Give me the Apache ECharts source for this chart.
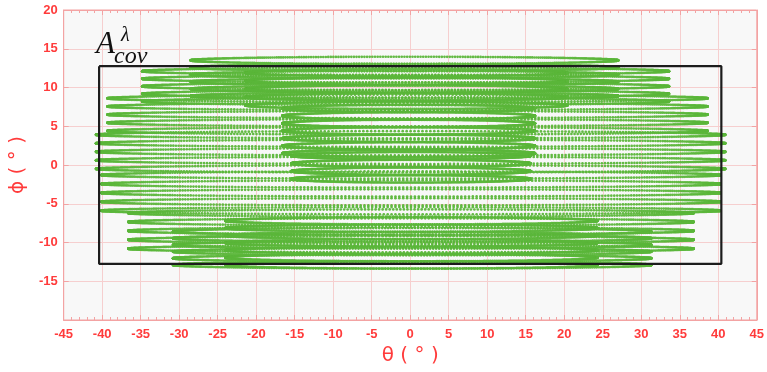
<!DOCTYPE html>
<html>
<head>
<meta charset="utf-8">
<script src="https://cdn.jsdelivr.net/npm/echarts@6/dist/echarts.min.js"></script>
<style>
html,body{margin:0;padding:0;background:#fff;}
#chart{width:767px;height:372px;}
</style>
</head>
<body>
<div id="chart"></div>
<script>
// Loop groups of the coverage scan (degrees)
const groupXLeft   = [-28.5, -34.8, -39.3, -40.8, -40.1, -36.6, -30.8, -24.0, -21.4, -16.6, -15.4, -17.9];
const groupXRight  = [ 27.0,  33.6,  38.6,  40.9,  40.3,  36.8,  31.3,  24.3,  20.4,  16.2,  15.6,  18.4];
const groupYTop    = [ 13.5,  12.1,   8.6,   3.9,  -1.3,  -6.2,  -8.6,  -7.2,  11.9,   7.3,   1.2,  -4.2];
const groupYBottom = [  8.9,   8.2,   4.4,  -0.5,  -5.9, -10.8, -12.9, -12.9,   7.7,   1.5,  -3.8,  -9.8];
const groupLoops   = [  6,     5,     5,     5,     5,     5,     6,     7,     5,     7,     6,     6  ];
const loopHalfHeight = 0.47;
const samplesPerLoop = 500;

// Coverage rectangle
const rectX = [-40.4, 40.4];
const rectY = [-12.75, 12.75];

const xMin = -45, xMax = 45, xStep = 5;
const yMin = -20, yMax = 20, yStep = 5;

const red = '#ff3b3b';
const pinkLine = '#f6cfcf';
const axisPink = '#f3a3a3';

// build scan points from the loop groups (equal time sampling per loop)
const scanPoints = [];
for (let g = 0; g < groupXLeft.length; g++) {
  const xl = groupXLeft[g], xr = groupXRight[g];
  const cx = (xl + xr) / 2, rx = (xr - xl) / 2;
  const n = groupLoops[g];
  for (let k = 0; k < n; k++) {
    const cy = n === 1 ? groupYTop[g] : groupYTop[g] + (groupYBottom[g] - groupYTop[g]) * k / (n - 1);
    for (let i = 0; i < samplesPerLoop; i++) {
      const t = 2 * Math.PI * i / samplesPerLoop;
      scanPoints.push([cx + rx * Math.cos(t), cy + loopHalfHeight * Math.sin(t)]);
    }
  }
}
const rectPoints = [
  [rectX[0], rectY[1]], [rectX[1], rectY[1]], [rectX[1], rectY[0]],
  [rectX[0], rectY[0]], [rectX[0], rectY[1]]
];

const chart = echarts.init(document.getElementById('chart'), null, {renderer: 'canvas'});
const labelStyle = {color: red, fontWeight: 'bold', fontSize: 13, fontFamily: 'Liberation Sans, Arial, sans-serif'};
const axLine = {show: true, onZero: false, lineStyle: {color: axisPink}};
chart.setOption({
  animation: false,
  backgroundColor: '#ffffff',
  grid: {left: 60, right: 9, top: 10, bottom: 52, show: true, backgroundColor: '#f8f8f8', borderColor: axisPink, borderWidth: 1},
  xAxis: [{
    type: 'value', min: xMin, max: xMax, interval: xStep, position: 'bottom',
    name: 'θ ( ° )', nameLocation: 'middle', nameGap: 23,
    nameTextStyle: {color: red, fontSize: 20, fontFamily: 'DejaVu Sans, sans-serif'},
    axisLine: axLine,
    axisTick: {show: true, inside: true, length: 5, lineStyle: {color: axisPink}},
    minorTick: {show: true, splitNumber: 5, length: 3, lineStyle: {color: axisPink}},
    axisLabel: Object.assign({margin: 8}, labelStyle),
    splitLine: {show: true, lineStyle: {color: pinkLine, width: 1}}
  }, {
    type: 'value', min: xMin, max: xMax, interval: xStep, position: 'top',
    axisLine: axLine,
    axisTick: {show: true, inside: true, length: 5, lineStyle: {color: axisPink}},
    minorTick: {show: true, splitNumber: 5, length: 3, lineStyle: {color: axisPink}},
    axisLabel: {show: false}, splitLine: {show: false}
  }],
  yAxis: [{
    type: 'value', min: yMin, max: yMax, interval: yStep, position: 'left',
    name: 'ϕ ( ° )', nameLocation: 'middle', nameGap: 32, nameRotate: 90,
    nameTextStyle: {color: red, fontSize: 20, fontFamily: 'DejaVu Sans, sans-serif'},
    axisLine: axLine,
    axisTick: {show: true, inside: true, length: 5, lineStyle: {color: axisPink}},
    axisLabel: Object.assign({margin: 6, formatter: v => v === yMin ? '' : String(v)}, labelStyle),
    splitLine: {show: true, lineStyle: {color: pinkLine, width: 1}}
  }, {
    type: 'value', min: yMin, max: yMax, interval: yStep, position: 'right',
    axisLine: axLine,
    axisTick: {show: true, inside: true, length: 5, lineStyle: {color: axisPink}},
    axisLabel: {show: false}, splitLine: {show: false}
  }],
  series: [{
    type: 'scatter', xAxisIndex: 0, yAxisIndex: 0,
    data: scanPoints, symbol: 'circle', symbolSize: 2.7,
    itemStyle: {color: '#5bb63a', opacity: 0.95},
    silent: true, z: 2
  }, {
    type: 'line', xAxisIndex: 0, yAxisIndex: 0,
    data: rectPoints, symbol: 'none',
    lineStyle: {color: '#1c1c1c', width: 2.2},
    silent: true, z: 5
  }],
  graphic: [
    {type: 'text', left: 96, top: 29, z: 10, style: {text: 'A', font: 'italic 31px "Liberation Serif", serif', fill: '#111'}},
    {type: 'text', left: 121, top: 26, z: 10, style: {text: 'λ', font: 'italic 20px "Liberation Serif", serif', fill: '#111'}},
    {type: 'text', left: 114, top: 45, z: 10, style: {text: 'cov', font: 'italic 24px "Liberation Serif", serif', fill: '#111'}}
  ]
});
</script>
</body>
</html>
